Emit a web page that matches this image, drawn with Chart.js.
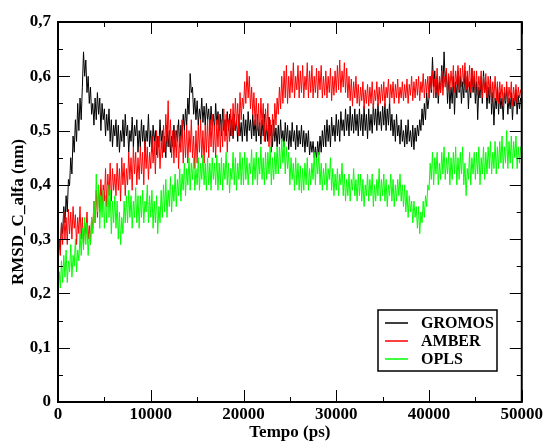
<!DOCTYPE html>
<html>
<head>
<meta charset="utf-8">
<title>RMSD C-alfa</title>
<script src="https://cdn.jsdelivr.net/npm/chart.js@4.4.1/dist/chart.umd.min.js"></script>
<style>
    html, body { margin: 0; padding: 0; background: #fff; }
    canvas { display: block; }
</style>
</head>
<body>
<canvas id="rmsdChart" width="545" height="443"></canvas>
<script>
// Amostragem: um ponto a cada 125 ps, de 0 a 50000 ps
const passoTempo = 125;
const tempoMax = 50000;

const nomesSeries = ['GROMOS', 'AMBER', 'OPLS'];
const coresSeries = ['#000000', '#ff0000', '#00ff00'];

// RMSD (nm) de cada campo de força, 10 pontos por linha (1250 ps)
const rmsdGromos = [
    0.27, 0.30, 0.28, 0.33, 0.31, 0.36, 0.33, 0.38, 0.35, 0.41,
    0.40, 0.45, 0.42, 0.49, 0.46, 0.52, 0.48, 0.55, 0.50, 0.56,
    0.52, 0.58, 0.645, 0.60, 0.63, 0.57, 0.60, 0.55, 0.58, 0.53,
    0.55, 0.51, 0.56, 0.52, 0.57, 0.53, 0.56, 0.50, 0.55, 0.52,
    0.54, 0.49, 0.53, 0.50, 0.54, 0.48, 0.52, 0.47, 0.51, 0.49,
    0.52, 0.47, 0.51, 0.46, 0.50, 0.48, 0.52, 0.47, 0.53, 0.49,
    0.51, 0.46, 0.50, 0.48, 0.525, 0.47, 0.51, 0.49, 0.52, 0.46,
    0.50, 0.47, 0.52, 0.48, 0.51, 0.46, 0.50, 0.48, 0.53, 0.47,
    0.50, 0.46, 0.51, 0.48, 0.50, 0.455, 0.49, 0.47, 0.52, 0.48,
    0.50, 0.46, 0.49, 0.45, 0.51, 0.47, 0.50, 0.46, 0.49, 0.47,
    0.51, 0.47, 0.50, 0.48, 0.52, 0.47, 0.51, 0.49, 0.53, 0.50,
    0.54, 0.51, 0.56, 0.53, 0.605, 0.57, 0.58, 0.53, 0.56, 0.52,
    0.555, 0.51, 0.54, 0.52, 0.56, 0.515, 0.545, 0.51, 0.55, 0.52,
    0.54, 0.50, 0.545, 0.51, 0.53, 0.50, 0.55, 0.51, 0.535, 0.50,
    0.53, 0.49, 0.54, 0.50, 0.52, 0.49, 0.535, 0.50, 0.53, 0.49,
    0.52, 0.485, 0.53, 0.50, 0.52, 0.48, 0.53, 0.49, 0.515, 0.48,
    0.53, 0.49, 0.52, 0.48, 0.535, 0.50, 0.52, 0.485, 0.53, 0.49,
    0.52, 0.48, 0.53, 0.49, 0.515, 0.475, 0.52, 0.49, 0.53, 0.48,
    0.51, 0.48, 0.525, 0.49, 0.51, 0.47, 0.52, 0.48, 0.505, 0.47,
    0.51, 0.475, 0.52, 0.48, 0.50, 0.47, 0.515, 0.48, 0.51, 0.465,
    0.50, 0.47, 0.515, 0.48, 0.50, 0.465, 0.51, 0.47, 0.50, 0.475,
    0.51, 0.47, 0.50, 0.46, 0.495, 0.47, 0.50, 0.455, 0.48, 0.46,
    0.48, 0.45, 0.47, 0.445, 0.48, 0.455, 0.49, 0.46, 0.50, 0.47,
    0.51, 0.47, 0.52, 0.48, 0.51, 0.47, 0.525, 0.49, 0.51, 0.48,
    0.53, 0.49, 0.52, 0.48, 0.535, 0.50, 0.52, 0.49, 0.54, 0.50,
    0.53, 0.49, 0.545, 0.50, 0.53, 0.495, 0.54, 0.50, 0.53, 0.49,
    0.54, 0.50, 0.53, 0.49, 0.545, 0.50, 0.53, 0.485, 0.54, 0.50,
    0.53, 0.495, 0.55, 0.51, 0.54, 0.50, 0.55, 0.51, 0.535, 0.50,
    0.545, 0.51, 0.55, 0.50, 0.54, 0.51, 0.555, 0.50, 0.53, 0.49,
    0.52, 0.48, 0.53, 0.49, 0.51, 0.475, 0.52, 0.48, 0.50, 0.47,
    0.51, 0.475, 0.52, 0.48, 0.50, 0.47, 0.51, 0.465, 0.505, 0.48,
    0.51, 0.49, 0.52, 0.50, 0.54, 0.51, 0.55, 0.52, 0.57, 0.54,
    0.56, 0.60, 0.57, 0.635, 0.58, 0.61, 0.56, 0.60, 0.55, 0.59,
    0.57, 0.62, 0.58, 0.645, 0.59, 0.61, 0.55, 0.60, 0.54, 0.58,
    0.55, 0.60, 0.53, 0.59, 0.56, 0.61, 0.57, 0.60, 0.55, 0.59,
    0.56, 0.61, 0.57, 0.60, 0.54, 0.59, 0.56, 0.615, 0.57, 0.60,
    0.55, 0.59, 0.52, 0.58, 0.56, 0.60, 0.55, 0.61, 0.57, 0.59,
    0.54, 0.58, 0.55, 0.60, 0.53, 0.57, 0.51, 0.56, 0.54, 0.58,
    0.53, 0.57, 0.54, 0.56, 0.52, 0.57, 0.55, 0.58, 0.53, 0.56,
    0.54, 0.57, 0.52, 0.56, 0.545, 0.575, 0.53, 0.565, 0.54, 0.56,
    0.55
];

const rmsdAmber = [
    0.24, 0.30, 0.27, 0.33, 0.29, 0.35, 0.30, 0.34, 0.29, 0.355,
    0.31, 0.35, 0.30, 0.36, 0.32, 0.345, 0.29, 0.34, 0.31, 0.36,
    0.30, 0.34, 0.29, 0.33, 0.31, 0.35, 0.30, 0.325, 0.29, 0.34,
    0.32, 0.37, 0.33, 0.39, 0.34, 0.40, 0.35, 0.41, 0.36, 0.40,
    0.37, 0.43, 0.36, 0.42, 0.38, 0.44, 0.37, 0.43, 0.39, 0.42,
    0.38, 0.44, 0.39, 0.43, 0.37, 0.45, 0.40, 0.44, 0.38, 0.43,
    0.40, 0.46, 0.41, 0.45, 0.39, 0.47, 0.42, 0.46, 0.40, 0.45,
    0.41, 0.47, 0.42, 0.46, 0.40, 0.48, 0.43, 0.47, 0.41, 0.46,
    0.43, 0.49, 0.44, 0.48, 0.42, 0.50, 0.45, 0.49, 0.43, 0.48,
    0.45, 0.51, 0.46, 0.53, 0.48, 0.555, 0.47, 0.52, 0.45, 0.50,
    0.44, 0.50, 0.45, 0.51, 0.43, 0.49, 0.46, 0.52, 0.44, 0.50,
    0.45, 0.51, 0.44, 0.50, 0.46, 0.52, 0.45, 0.49, 0.43, 0.50,
    0.44, 0.51, 0.46, 0.52, 0.45, 0.50, 0.44, 0.51, 0.46, 0.52,
    0.45, 0.52, 0.47, 0.53, 0.46, 0.51, 0.45, 0.52, 0.47, 0.53,
    0.46, 0.52, 0.47, 0.54, 0.48, 0.53, 0.46, 0.52, 0.48, 0.54,
    0.49, 0.55, 0.50, 0.56, 0.51, 0.55, 0.49, 0.57, 0.52, 0.56,
    0.54, 0.59, 0.55, 0.61, 0.56, 0.60, 0.54, 0.58, 0.53, 0.57,
    0.51, 0.56, 0.50, 0.55, 0.49, 0.56, 0.51, 0.55, 0.48, 0.54,
    0.50, 0.55, 0.47, 0.52, 0.46, 0.53, 0.49, 0.55, 0.51, 0.56,
    0.53, 0.58, 0.54, 0.60, 0.55, 0.61, 0.56, 0.62, 0.55, 0.60,
    0.56, 0.61, 0.57, 0.625, 0.56, 0.60, 0.575, 0.62, 0.56, 0.61,
    0.57, 0.62, 0.56, 0.60, 0.575, 0.625, 0.56, 0.61, 0.57, 0.62,
    0.56, 0.60, 0.57, 0.615, 0.56, 0.61, 0.575, 0.62, 0.56, 0.60,
    0.565, 0.61, 0.56, 0.60, 0.57, 0.615, 0.555, 0.60, 0.565, 0.61,
    0.57, 0.62, 0.575, 0.63, 0.57, 0.61, 0.58, 0.625, 0.57, 0.615,
    0.56, 0.60, 0.555, 0.595, 0.545, 0.59, 0.56, 0.60, 0.55, 0.585,
    0.545, 0.58, 0.555, 0.59, 0.54, 0.575, 0.55, 0.585, 0.545, 0.58,
    0.55, 0.59, 0.54, 0.575, 0.555, 0.59, 0.545, 0.58, 0.55, 0.585,
    0.555, 0.59, 0.545, 0.58, 0.56, 0.595, 0.55, 0.585, 0.56, 0.59,
    0.55, 0.585, 0.56, 0.595, 0.55, 0.58, 0.56, 0.59, 0.555, 0.585,
    0.56, 0.595, 0.55, 0.585, 0.565, 0.60, 0.555, 0.59, 0.56, 0.595,
    0.565, 0.60, 0.555, 0.59, 0.57, 0.605, 0.56, 0.595, 0.57, 0.60,
    0.56, 0.60, 0.575, 0.61, 0.56, 0.595, 0.57, 0.615, 0.565, 0.60,
    0.57, 0.61, 0.565, 0.60, 0.58, 0.615, 0.57, 0.605, 0.575, 0.61,
    0.58, 0.62, 0.57, 0.61, 0.585, 0.62, 0.575, 0.615, 0.58, 0.62,
    0.585, 0.625, 0.575, 0.61, 0.58, 0.62, 0.57, 0.615, 0.58, 0.61,
    0.57, 0.61, 0.565, 0.60, 0.575, 0.61, 0.56, 0.60, 0.57, 0.605,
    0.56, 0.60, 0.565, 0.595, 0.55, 0.59, 0.56, 0.60, 0.555, 0.59,
    0.55, 0.59, 0.56, 0.585, 0.545, 0.58, 0.555, 0.59, 0.55, 0.58,
    0.56, 0.59, 0.545, 0.58, 0.555, 0.585, 0.55, 0.58, 0.56, 0.575,
    0.565
];

const rmsdOpls = [
    0.20, 0.24, 0.21, 0.26, 0.22, 0.27, 0.23, 0.28, 0.22, 0.26,
    0.24, 0.29, 0.23, 0.27, 0.25, 0.30, 0.24, 0.28, 0.26, 0.31,
    0.27, 0.32, 0.28, 0.34, 0.29, 0.33, 0.27, 0.31, 0.29, 0.34,
    0.31, 0.37, 0.33, 0.42, 0.35, 0.40, 0.32, 0.38, 0.34, 0.39,
    0.32, 0.38, 0.33, 0.40, 0.34, 0.39, 0.31, 0.37, 0.33, 0.38,
    0.32, 0.37, 0.30, 0.35, 0.29, 0.34, 0.31, 0.37, 0.33, 0.38,
    0.33, 0.39, 0.34, 0.38, 0.32, 0.37, 0.34, 0.395, 0.33, 0.38,
    0.32, 0.38, 0.34, 0.39, 0.33, 0.37, 0.35, 0.40, 0.33, 0.38,
    0.34, 0.39, 0.32, 0.37, 0.33, 0.38, 0.31, 0.36, 0.33, 0.39,
    0.34, 0.40, 0.35, 0.41, 0.34, 0.39, 0.36, 0.415, 0.35, 0.40,
    0.37, 0.42, 0.36, 0.41, 0.38, 0.43, 0.37, 0.42, 0.39, 0.44,
    0.38, 0.43, 0.40, 0.45, 0.39, 0.44, 0.41, 0.45, 0.39, 0.43,
    0.40, 0.45, 0.39, 0.44, 0.41, 0.455, 0.40, 0.44, 0.39, 0.45,
    0.40, 0.44, 0.39, 0.45, 0.41, 0.44, 0.40, 0.455, 0.39, 0.44,
    0.40, 0.45, 0.39, 0.44, 0.41, 0.46, 0.40, 0.44, 0.385, 0.43,
    0.41, 0.46, 0.40, 0.45, 0.39, 0.44, 0.41, 0.46, 0.40, 0.45,
    0.40, 0.46, 0.41, 0.45, 0.40, 0.44, 0.42, 0.465, 0.40, 0.45,
    0.41, 0.46, 0.40, 0.45, 0.42, 0.47, 0.41, 0.45, 0.40, 0.46,
    0.41, 0.46, 0.42, 0.47, 0.40, 0.45, 0.41, 0.46, 0.42, 0.47,
    0.42, 0.47, 0.43, 0.485, 0.44, 0.48, 0.42, 0.47, 0.43, 0.46,
    0.40, 0.45, 0.41, 0.44, 0.39, 0.45, 0.40, 0.44, 0.39, 0.435,
    0.385, 0.43, 0.39, 0.44, 0.40, 0.45, 0.39, 0.43, 0.40, 0.44,
    0.41, 0.46, 0.40, 0.45, 0.42, 0.46, 0.40, 0.44, 0.39, 0.43,
    0.40, 0.44, 0.39, 0.43, 0.41, 0.45, 0.39, 0.43, 0.38, 0.42,
    0.39, 0.43, 0.38, 0.42, 0.40, 0.44, 0.38, 0.42, 0.37, 0.41,
    0.38, 0.42, 0.37, 0.41, 0.39, 0.43, 0.38, 0.41, 0.37, 0.42,
    0.38, 0.42, 0.37, 0.41, 0.36, 0.40, 0.38, 0.42, 0.37, 0.41,
    0.38, 0.42, 0.36, 0.40, 0.37, 0.41, 0.38, 0.43, 0.37, 0.41,
    0.38, 0.42, 0.37, 0.41, 0.36, 0.40, 0.38, 0.42, 0.37, 0.41,
    0.36, 0.40, 0.37, 0.41, 0.38, 0.42, 0.37, 0.40, 0.36, 0.40,
    0.35, 0.39, 0.34, 0.38, 0.35, 0.37, 0.33, 0.37, 0.34, 0.36,
    0.32, 0.36, 0.31, 0.35, 0.33, 0.37, 0.34, 0.38, 0.36, 0.40,
    0.39, 0.44, 0.41, 0.46, 0.40, 0.45, 0.42, 0.46, 0.40, 0.44,
    0.41, 0.46, 0.42, 0.47, 0.41, 0.45, 0.42, 0.46, 0.40, 0.45,
    0.41, 0.46, 0.42, 0.47, 0.40, 0.45, 0.41, 0.46, 0.42, 0.47,
    0.40, 0.44, 0.38, 0.43, 0.41, 0.46, 0.40, 0.45, 0.42, 0.46,
    0.41, 0.46, 0.42, 0.47, 0.40, 0.45, 0.42, 0.47, 0.41, 0.46,
    0.42, 0.47, 0.43, 0.48, 0.42, 0.46, 0.43, 0.48, 0.42, 0.47,
    0.43, 0.48, 0.44, 0.49, 0.43, 0.47, 0.44, 0.50, 0.43, 0.48,
    0.44, 0.49, 0.43, 0.48, 0.45, 0.49, 0.43, 0.47, 0.44, 0.47,
    0.46
];

// Marcas dos eixos
const ticksX = [0, 10000, 20000, 30000, 40000, 50000];
const ticksY = [0, 0.1, 0.2, 0.3, 0.4, 0.5, 0.6, 0.7];

const serieXY = valores => valores.map((v, i) => ({ x: i * passoTempo, y: v }));

const fonteTexto = 'Liberation Serif, Times New Roman, serif';

// Moldura fechada com marcas para dentro nos quatro lados (estilo xmgrace)
const molduraPlugin = {
    id: 'moldura',
    afterDatasetsDraw(chart) {
        const { ctx, chartArea: a, scales: { x, y } } = chart;
        ctx.save();
        ctx.strokeStyle = '#000';
        ctx.lineWidth = 1;
        const maior = 12, menor = 5;
        ctx.beginPath();
        ticksX.forEach((v, i) => {
            const px = Math.round(x.getPixelForValue(v)) + 0.5;
            ctx.moveTo(px, a.bottom); ctx.lineTo(px, a.bottom - maior);
            ctx.moveTo(px, a.top); ctx.lineTo(px, a.top + maior);
            if (i < ticksX.length - 1) {
                const pm = Math.round(x.getPixelForValue((v + ticksX[i + 1]) / 2)) + 0.5;
                ctx.moveTo(pm, a.bottom); ctx.lineTo(pm, a.bottom - menor);
                ctx.moveTo(pm, a.top); ctx.lineTo(pm, a.top + menor);
            }
        });
        ticksY.forEach((v, i) => {
            const py = Math.round(y.getPixelForValue(v)) + 0.5;
            ctx.moveTo(a.left, py); ctx.lineTo(a.left + maior, py);
            ctx.moveTo(a.right, py); ctx.lineTo(a.right - maior, py);
            if (i < ticksY.length - 1) {
                const pm = Math.round(y.getPixelForValue((v + ticksY[i + 1]) / 2)) + 0.5;
                ctx.moveTo(a.left, pm); ctx.lineTo(a.left + menor, pm);
                ctx.moveTo(a.right, pm); ctx.lineTo(a.right - menor, pm);
            }
        });
        ctx.stroke();
        ctx.lineWidth = 2;
        ctx.strokeRect(a.left, a.top, a.right - a.left, a.bottom - a.top);
        ctx.restore();
    }
};

// Legenda em caixa no canto inferior direito
const legendaPlugin = {
    id: 'legendaCaixa',
    afterDraw(chart) {
        const { ctx } = chart;
        const bx = 378, by = 310, bw = 119, bh = 61;
        ctx.save();
        ctx.fillStyle = '#fff';
        ctx.fillRect(bx, by, bw, bh);
        ctx.strokeStyle = '#000';
        ctx.lineWidth = 1.5;
        ctx.strokeRect(bx, by, bw, bh);
        ctx.font = 'bold 16px ' + fonteTexto;
        ctx.textBaseline = 'middle';
        ctx.textAlign = 'left';
        nomesSeries.forEach((nome, i) => {
            const ly = by + 13 + i * 18;
            ctx.strokeStyle = coresSeries[i];
            ctx.lineWidth = 1.5;
            ctx.beginPath();
            ctx.moveTo(bx + 7, ly);
            ctx.lineTo(bx + 30, ly);
            ctx.stroke();
            ctx.fillStyle = '#000';
            ctx.fillText(nome, bx + 43, ly + 1);
        });
        ctx.restore();
    }
};

const ctx = document.getElementById('rmsdChart').getContext('2d');
const rmsdChart = new Chart(ctx, {
    type: 'line',
    data: {
        datasets: [rmsdGromos, rmsdAmber, rmsdOpls].map((valores, i) => ({
            label: nomesSeries[i],
            data: serieXY(valores),
            borderColor: coresSeries[i],
            borderWidth: 1,
            pointRadius: 0,
            tension: 0,
            fill: false,
            // OPLS por cima, GROMOS por baixo
            order: 2 - i
        }))
    },
    options: {
        responsive: false,
        animation: false,
        events: [],
        layout: { padding: { top: 22, right: 23, left: 0, bottom: 0 } },
        plugins: {
            legend: { display: false },
            tooltip: { enabled: false }
        },
        scales: {
            x: {
                type: 'linear',
                min: 0,
                max: tempoMax,
                afterBuildTicks: s => { s.ticks = ticksX.map(v => ({ value: v })); },
                afterFit: s => { s.height = 41; },
                grid: { display: false, drawTicks: false },
                border: { display: false },
                ticks: {
                    padding: 2,
                    maxRotation: 0,
                    color: '#000',
                    font: { family: fonteTexto, size: 17, weight: 'bold' },
                    callback: v => String(v)
                },
                title: {
                    display: true,
                    text: 'Tempo (ps)',
                    color: '#000',
                    padding: { top: 0, bottom: 0 },
                    font: { family: fonteTexto, size: 17, weight: 'bold' }
                }
            },
            y: {
                min: 0,
                max: 0.7,
                afterBuildTicks: s => { s.ticks = ticksY.map(v => ({ value: v })); },
                afterFit: s => { s.width = 58; },
                grid: { display: false, drawTicks: false },
                border: { display: false },
                ticks: {
                    padding: 7,
                    color: '#000',
                    font: { family: fonteTexto, size: 17, weight: 'bold' },
                    callback: v => v === 0 ? '0' : v.toFixed(1).replace('.', ',')
                },
                title: {
                    display: true,
                    text: 'RMSD_C_alfa (nm)',
                    color: '#000',
                    padding: { top: 8, bottom: 0 },
                    font: { family: fonteTexto, size: 17, weight: 'bold' }
                }
            }
        }
    },
    plugins: [molduraPlugin, legendaPlugin]
});
</script>
</body>
</html>
